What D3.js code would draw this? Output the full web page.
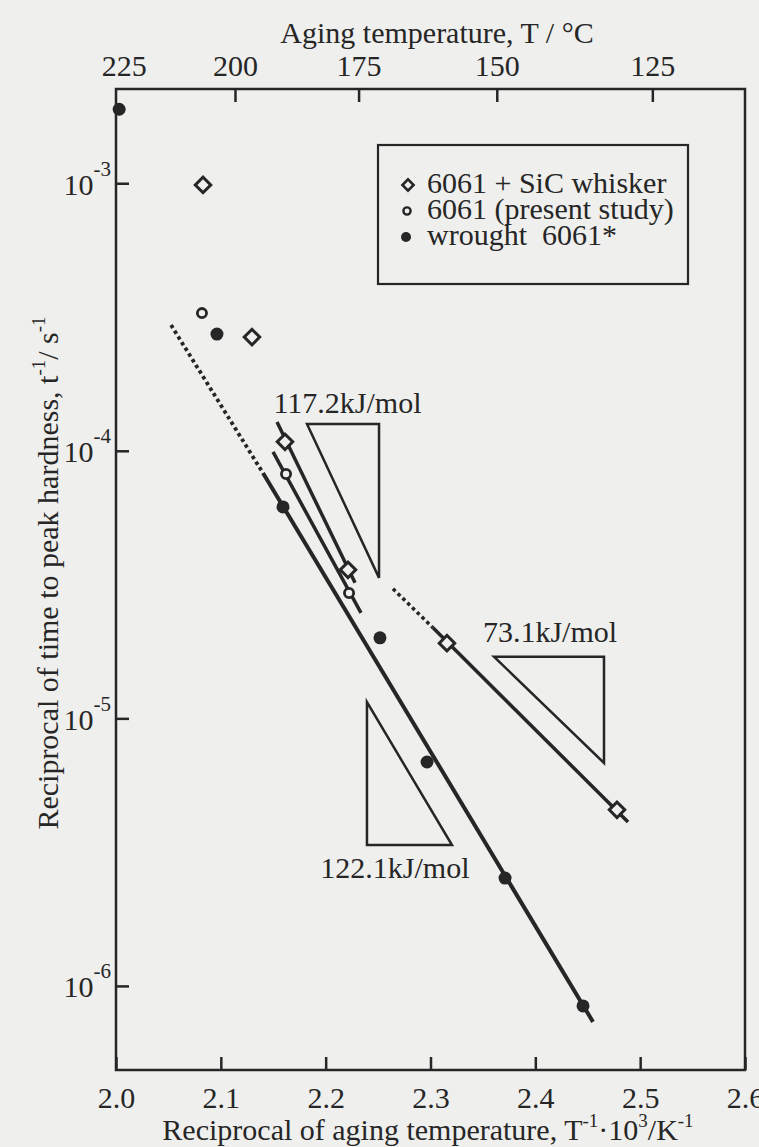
<!DOCTYPE html>
<html>
<head>
<meta charset="utf-8">
<script src="https://cdn.jsdelivr.net/npm/d3@7"></script>
<style>
  body { margin: 0; background: #efefed; }
  svg { display: block; }
  text { font-family: "Liberation Serif", "Times New Roman", serif; fill: #262626; }
  .axis text { font-size: 30px; }
</style>
</head>
<body>
<div id="chart"></div>
<script>
// values: x = 1/T (10^3/K), y = 1/t (1/s)
const sicX = [2.083, 2.1297, 2.1612, 2.2213, 2.3157, 2.4779];
const sicY = [9.85e-4, 2.66e-4, 1.08e-4, 3.59e-5, 1.91e-5, 4.55e-6];

const presentX = [2.082, 2.1622, 2.2223];
const presentY = [3.27e-4, 8.19e-5, 2.94e-5];

const wroughtX = [2.003, 2.0963, 2.1593, 2.2518, 2.2967, 2.3711, 2.4455];
const wroughtY = [1.89e-3, 2.73e-4, 6.17e-5, 2.0e-5, 6.87e-6, 2.53e-6, 8.42e-7];

// fitted lines (end points)
const fitSicHighX = [2.1536, 2.228];
const fitSicHighY = [1.28e-4, 3.21e-5];
const fitSicLowDotX = [2.2642, 2.3024];
const fitSicLowDotY = [3.05e-5, 2.18e-5];
const fitSicLowX = [2.3024, 2.4884];
const fitSicLowY = [2.18e-5, 4.1e-6];
const fitPresentX = [2.1498, 2.2337];
const fitPresentY = [9.9e-5, 2.48e-5];
const fitWroughtDotX = [2.0525, 2.1402];
const fitWroughtDotY = [2.95e-4, 8.26e-5];
const fitWroughtX = [2.1402, 2.455];
const fitWroughtY = [8.26e-5, 7.34e-7];

// slope triangles + activation energy labels
const tri1172X = [2.1822, 2.2509, 2.2509];
const tri1172Y = [1.26e-4, 1.26e-4, 3.35e-5];
const tri731X = [2.3606, 2.4655, 2.4655];
const tri731Y = [1.70e-5, 1.70e-5, 6.81e-6];
const tri1221X = [2.2394, 2.2394, 2.3205];
const tri1221Y = [1.15e-5, 3.36e-6, 3.36e-6];
const energyLabels = ["117.2kJ/mol", "73.1kJ/mol", "122.1kJ/mol"];
const energyLabelX = [2.2208, 2.414, 2.2661];
const energyLabelY = [1.38e-4, 1.93e-5, 2.53e-6];

// axes
const xTicks = [2.0, 2.1, 2.2, 2.3, 2.4, 2.5, 2.6];
const yTicks = [1e-3, 1e-4, 1e-5, 1e-6];
const yTickExp = ["-3", "-4", "-5", "-6"];
const celsiusTicks = [225, 200, 175, 150, 125];

const legendNames = ["6061 + SiC whisker", "6061 (present study)", "wrought  6061*"];

const ink = "#262626";
const bg = "#efefed";
const width = 759, height = 1147;

const svg = d3.select("#chart")
  .append("svg")
  .attr("width", width)
  .attr("height", height);

svg.append("rect").attr("width", width).attr("height", height).attr("fill", bg);

const x = d3.scaleLinear().domain([2.0, 2.6]).range([116, 745]);
const y = d3.scaleLog().domain([4.85e-7, 2.25e-3]).range([1070, 89]);

const zip = (xs, ys) => xs.map((v, i) => [v, ys[i]]);

// frame
svg.append("rect")
  .attr("x", x(2.0))
  .attr("y", y(2.25e-3))
  .attr("width", x(2.6) - x(2.0))
  .attr("height", y(4.85e-7) - y(2.25e-3))
  .attr("fill", "none")
  .attr("stroke", ink)
  .attr("stroke-width", 2.5);

function styleAxis(g) {
  g.select(".domain").remove();
  g.selectAll(".tick line").attr("stroke", ink).attr("stroke-width", 2.5);
}

// bottom axis
svg.append("g")
  .attr("class", "axis")
  .attr("transform", "translate(0," + y.range()[0] + ")")
  .call(d3.axisBottom(x).tickValues(xTicks).tickSize(-13).tickPadding(17).tickFormat(d3.format(".1f")))
  .call(styleAxis);

// top axis in Celsius
svg.append("g")
  .attr("class", "axis")
  .attr("transform", "translate(0," + y.range()[1] + ")")
  .call(d3.axisTop(x)
    .tickValues(celsiusTicks.map(c => 1000 / (c + 273.15)))
    .tickSize(-13).tickPadding(13)
    .tickFormat((d, i) => celsiusTicks[i]))
  .call(styleAxis)
  .call(g => g.selectAll(".tick line").filter((d, i) => i === 0).remove());

// left axis, powers of ten
svg.append("g")
  .attr("class", "axis")
  .attr("transform", "translate(" + x(2.0) + ",0)")
  .call(d3.axisLeft(y).tickValues(yTicks).tickSize(-13).tickPadding(5).tickFormat(""))
  .call(styleAxis)
  .selectAll(".tick text")
  .each(function(d, i) {
    const t = d3.select(this).attr("dy", null).attr("y", 11);
    t.append("tspan").text("10");
    t.append("tspan").attr("dy", -19).attr("font-size", 21).text(yTickExp[i]);
  });

// axis titles
svg.append("text")
  .attr("x", 437).attr("y", 43)
  .attr("text-anchor", "middle")
  .attr("font-size", 30)
  .text("Aging temperature, T / °C");

const xTitle = svg.append("text")
  .attr("x", 428).attr("y", 1140)
  .attr("text-anchor", "middle")
  .attr("font-size", 30);
xTitle.append("tspan").text("Reciprocal of aging temperature, T");
xTitle.append("tspan").attr("dy", -13).attr("font-size", 19).text("-1");
xTitle.append("tspan").attr("dy", 13).text("·10");
xTitle.append("tspan").attr("dy", -13).attr("font-size", 19).text("3");
xTitle.append("tspan").attr("dy", 13).text("/K");
xTitle.append("tspan").attr("dy", -13).attr("font-size", 19).text("-1");

const yTitle = svg.append("text")
  .attr("transform", "translate(58,573) rotate(-90)")
  .attr("text-anchor", "middle")
  .attr("font-size", 30);
yTitle.append("tspan").text("Reciprocal of time to peak hardness, t");
yTitle.append("tspan").attr("dy", -13).attr("font-size", 19).text("-1");
yTitle.append("tspan").attr("dy", 13).text("/ s");
yTitle.append("tspan").attr("dy", -13).attr("font-size", 19).text("-1");

// slope triangles
const tri = d3.line().x(d => x(d[0])).y(d => y(d[1])).curve(d3.curveLinearClosed);
[[tri1172X, tri1172Y], [tri731X, tri731Y], [tri1221X, tri1221Y]].forEach(([xs, ys]) => {
  svg.append("path")
    .attr("d", tri(zip(xs, ys)))
    .attr("fill", "none")
    .attr("stroke", ink)
    .attr("stroke-width", 2.5)
    .attr("stroke-linejoin", "miter");
});

energyLabels.forEach((s, i) => {
  svg.append("text")
    .attr("x", x(energyLabelX[i]))
    .attr("y", y(energyLabelY[i]))
    .attr("text-anchor", "middle")
    .attr("font-size", 30)
    .text(s);
});

// fit lines
const line = d3.line().x(d => x(d[0])).y(d => y(d[1]));
const fits = [
  [fitSicHighX, fitSicHighY, false, 3.5],
  [fitSicLowDotX, fitSicLowDotY, true, 3.5],
  [fitSicLowX, fitSicLowY, false, 3.5],
  [fitPresentX, fitPresentY, false, 3.5],
  [fitWroughtDotX, fitWroughtDotY, true, 3.8],
  [fitWroughtX, fitWroughtY, false, 4]
];
fits.forEach(([xs, ys, dotted, w]) => {
  svg.append("path")
    .attr("d", line(zip(xs, ys)))
    .attr("fill", "none")
    .attr("stroke", ink)
    .attr("stroke-width", w)
    .attr("stroke-dasharray", dotted ? "3.5,3.2" : null);
});

// markers
const diamond = d3.symbol().type(d3.symbolSquare).size(120);
const diamondSmall = d3.symbol().type(d3.symbolSquare).size(62);

svg.selectAll("sic")
  .data(zip(sicX, sicY))
  .enter()
  .append("path")
  .attr("d", diamond)
  .attr("transform", d => "translate(" + x(d[0]) + "," + y(d[1]) + ") rotate(45)")
  .attr("fill", bg)
  .attr("stroke", ink)
  .attr("stroke-width", 3);

svg.selectAll("present")
  .data(zip(presentX, presentY))
  .enter()
  .append("circle")
  .attr("cx", d => x(d[0]))
  .attr("cy", d => y(d[1]))
  .attr("r", 4.6)
  .attr("fill", bg)
  .attr("stroke", ink)
  .attr("stroke-width", 2.8);

svg.selectAll("wrought")
  .data(zip(wroughtX, wroughtY))
  .enter()
  .append("circle")
  .attr("cx", d => x(d[0]))
  .attr("cy", d => y(d[1]))
  .attr("r", 6.5)
  .attr("fill", ink);

// legend
const lg = svg.append("g");
lg.append("rect")
  .attr("x", 378).attr("y", 145)
  .attr("width", 310).attr("height", 139)
  .attr("fill", "none")
  .attr("stroke", ink)
  .attr("stroke-width", 2.2);

const rowY = [185, 211, 237];
lg.append("path")
  .attr("d", diamondSmall)
  .attr("transform", "translate(408," + rowY[0] + ") rotate(45)")
  .attr("fill", bg).attr("stroke", ink).attr("stroke-width", 2.6);
lg.append("circle")
  .attr("cx", 407).attr("cy", rowY[1]).attr("r", 3.6)
  .attr("fill", bg).attr("stroke", ink).attr("stroke-width", 2.4);
lg.append("circle")
  .attr("cx", 406).attr("cy", rowY[2]).attr("r", 5)
  .attr("fill", ink);

legendNames.forEach((s, i) => {
  lg.append("text")
    .attr("x", 427)
    .attr("y", rowY[i] + 8)
    .attr("font-size", 30)
    .style("white-space", "pre")
    .text(s);
});
</script>
</body>
</html>
